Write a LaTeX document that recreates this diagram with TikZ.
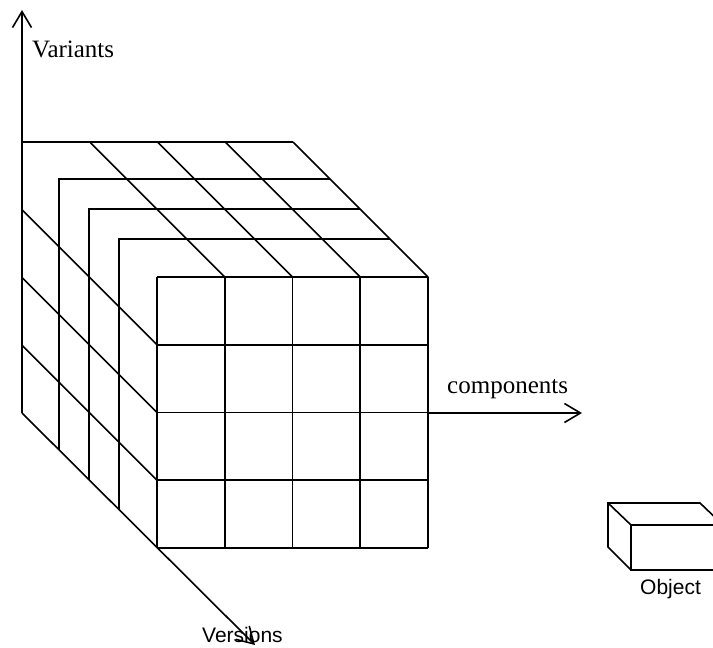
\documentclass[tikz,border=0pt]{standalone}
\usepackage{fontspec}
\newfontfamily\labelsans{Liberation Sans}
\newfontfamily\labelserif{Liberation Serif}
\usetikzlibrary{arrows.meta}
\begin{document}
\begin{tikzpicture}[x=1pt,y=-1pt,
  edge/.style={line width=1.6pt},
  axis/.style={edge,-{Straight Barb[length=16pt,width=19pt]}},
  seriflabel/.style={inner sep=0pt,font=\labelserif\fontsize{25}{29}\selectfont},
  sanslabel/.style={inner sep=0pt,font=\labelsans\fontsize{21}{25}\selectfont}]
\useasboundingbox (0,0) rectangle (713,648);
\clip (0,0) rectangle (713,648);

% axis origin and axis ends
\coordinate (origin) at (22,413);
\coordinate (vartip) at (22,10);
\coordinate (vertip) at (255,645);
\coordinate (comproot) at (428,413);
\coordinate (comptip) at (582,413);

% front face: 4 x 4 grid
\foreach \i in {0,...,4}{
  \draw[edge] (157+67.75*\i,277) -- (157+67.75*\i,548);
  \draw[edge] (157,277+67.75*\i) -- (428,277+67.75*\i);
}

% back layer top edge
\draw[edge] (22,142) -- (293,142);

% intermediate layers (vertical + top edge)
\foreach \x/\y in {59/179,89/209,119/239}{
  \draw[edge] (\x,{413+\x-22}) -- (\x,\y) -- (\x+271,\y);
}

% top face depth lines
\foreach \i in {1,...,4}
  \draw[edge] (22+67.75*\i,142) -- ++(135,135);

% left face depth lines
\foreach \j in {1,...,3}
  \draw[edge] (22,142+67.75*\j) -- ++(135,135);

% axes
\draw[axis] (origin) -- (vartip);
\draw[axis] (origin) -- (vertip);
\draw[axis] (comproot) -- (comptip);

\node[seriflabel,anchor=base west] (variants) at (32,57) {Variants};
\node[seriflabel,anchor=base west] (components) at (447,393) {components};
\node[sanslabel,anchor=base west] (versions) at (202,642) {Versions};

% object symbol
\draw[edge] (631,570) -- (608,547) -- (608,503) -- (700,503) -- (723,525);
\draw[edge] (608,503) -- (631,525);
\draw[edge] (740,525) -- (631,525) -- (631,570) -- (740,570);
\node[sanslabel,anchor=base west] (object) at (640,594) {Object};
\end{tikzpicture}
\end{document}
